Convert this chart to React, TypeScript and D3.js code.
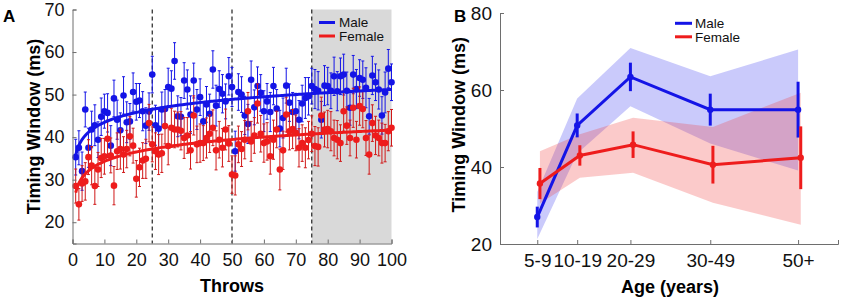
import React, { useEffect, useRef } from "react";
import * as d3 from "d3";

// ---------- Panel A data (throws 1..100) ----------
const maleThrowMeans = [
  35.3, 37.5, 32.0, 46.5, 37.5, 41.8, 42.8, 39.4, 44.8, 46.1,
  45.7, 38.0, 49.1, 44.1, 41.6, 49.8, 43.5, 43.7, 50.6, 48.3,
  48.6, 46.1, 42.7, 46.0, 54.7, 42.8, 42.0, 46.5, 46.6, 51.8,
  51.4, 57.9, 44.9, 44.8, 53.3, 51.2, 45.3, 53.3, 46.5, 49.4,
  43.7, 47.7, 45.5, 55.9, 47.4, 51.3, 50.2, 48.4, 54.3, 51.8,
  36.7, 50.6, 50.0, 45.1, 43.1, 53.5, 47.0, 52.0, 50.4, 46.1,
  48.4, 45.9, 52.0, 46.7, 42.0, 44.5, 52.1, 48.1, 45.9, 46.1,
  44.1, 47.9, 49.2, 49.6, 52.0, 51.3, 50.9, 44.1, 52.1, 52.0,
  50.9, 54.3, 50.8, 54.3, 54.7, 50.9, 46.9, 54.7, 51.3, 53.9,
  53.5, 51.6, 44.9, 54.5, 52.9, 51.2, 45.1, 50.5, 56.1, 52.9,
];
const maleThrowErr = [
  4.2, 4.0, 4.5, 4.1, 4.6, 4.3, 4.8, 4.2, 4.4, 4.0,
  4.5, 4.7, 4.3, 4.6, 4.1, 4.4, 4.8, 4.2, 4.5, 4.3,
  4.0, 4.6, 4.2, 4.4, 4.3, 4.7, 4.5, 4.1, 4.6, 4.4,
  4.2, 4.3, 4.8, 4.5, 4.2, 4.6, 4.4, 4.1, 4.7, 4.3,
  4.5, 4.2, 4.6, 4.4, 4.8, 4.3, 4.5, 4.1, 4.4, 4.6,
  4.7, 4.3, 4.2, 4.5, 4.6, 4.4, 4.1, 4.5, 4.3, 4.8,
  4.2, 4.6, 4.4, 4.5, 4.3, 4.7, 4.1, 4.4, 4.6, 4.2,
  4.5, 4.3, 4.8, 4.4, 4.2, 4.6, 4.5, 4.3, 4.7, 4.4,
  4.2, 4.5, 4.6, 4.3, 4.8, 4.4, 4.1, 4.5, 4.6, 4.3,
  4.4, 4.7, 4.2, 4.5, 4.3, 4.6, 4.4, 4.8, 4.5, 4.3,
];
const femaleThrowMeans = [
  28.5, 24.2, 29.1, 29.6, 35.3, 33.3, 28.5, 32.4, 35.1, 35.5,
  39.6, 35.7, 28.6, 36.7, 37.2, 35.9, 37.2, 40.2, 38.0, 30.2,
  32.9, 34.5, 34.9, 43.3, 38.3, 36.7, 35.9, 36.2, 42.6, 37.9,
  42.2, 41.8, 41.8, 41.5, 39.8, 40.4, 36.9, 45.1, 38.3, 38.6,
  38.6, 39.8, 40.8, 42.2, 36.9, 39.4, 37.5, 41.8, 38.5, 31.2,
  31.0, 38.3, 37.2, 39.4, 46.1, 39.0, 40.4, 47.9, 40.8, 38.6,
  39.0, 35.5, 39.4, 41.8, 32.4, 36.9, 45.3, 41.4, 41.9, 41.0,
  37.5, 38.6, 37.5, 39.3, 40.8, 37.9, 37.7, 45.1, 41.8, 41.9,
  41.4, 39.8, 39.4, 38.6, 46.1, 42.7, 39.8, 46.9, 39.4, 47.3,
  46.6, 39.8, 35.9, 43.3, 40.4, 39.8, 38.6, 38.6, 41.4, 42.2,
];
const femaleThrowErr = [
  4.0, 3.7, 4.2, 4.4, 4.1, 4.5, 4.3, 4.0, 4.6, 4.2,
  4.4, 4.1, 4.5, 4.3, 4.7, 4.2, 4.4, 4.6, 4.1, 4.3,
  4.5, 4.2, 4.6, 4.4, 4.1, 4.3, 4.7, 4.5, 4.2, 4.4,
  4.6, 4.3, 4.1, 4.5, 4.8, 4.2, 4.4, 4.6, 4.3, 4.5,
  4.1, 4.7, 4.4, 4.2, 4.6, 4.3, 4.5, 4.8, 4.2, 4.4,
  4.6, 4.3, 4.1, 4.5, 4.4, 4.7, 4.2, 4.6, 4.3, 4.5,
  4.4, 4.2, 4.6, 4.3, 4.8, 4.5, 4.1, 4.4, 4.6, 4.2,
  4.5, 4.3, 4.7, 4.4, 4.2, 4.6, 4.5, 4.3, 4.1, 4.4,
  4.6, 4.2, 4.5, 4.3, 4.7, 4.4, 4.2, 4.6, 4.3, 4.5,
  4.4, 4.1, 4.6, 4.3, 4.5, 4.2, 4.7, 4.4, 4.6, 4.3,
];
const throwTicks = [0, 10, 20, 30, 40, 50, 60, 70, 80, 90, 100];
const throwYTicks = [20, 30, 40, 50, 60, 70];
const blockBoundaries = [25, 50, 75];
const shadedRange = [75, 100];

// ---------- Panel B data ----------
const ageGroups = ["5-9", "10-19", "20-29", "30-49", "50+"];
const agePositions = [7, 14.5, 24.5, 39.5, 56];
const maleAgeMeans = [27.0, 50.8, 63.4, 54.9, 54.9];
const maleAgeErr = [2.7, 3.1, 3.7, 4.15, 7.25];
const maleBandLow = [21.3, 43.5, 55.8, 46.1, 39.1];
const maleBandHigh = [33.5, 57.8, 70.9, 63.6, 70.5];
const femaleAgeMeans = [35.7, 43.0, 45.8, 40.6, 42.4];
const femaleAgeErr = [4.05, 2.65, 3.45, 4.9, 8.15];
const femaleBandLow = [30.5, 37.2, 38.5, 30.7, 25.0];
const femaleBandHigh = [44.1, 48.5, 52.8, 50.4, 59.3];
const ageYTicks = [20, 40, 60, 80];
const femaleOffset = 0.5;

const BLUE = "#1414e6";
const RED = "#ee1c1c";
const RED_BAR = "#d01818";
const FONT = "'Liberation Sans', Arial, sans-serif";
const AXIS = "#6e6e6e";

function logFit(vals: number[]) {
  const xs = vals.map((_, i) => Math.log(i + 1));
  const mx = d3.mean(xs) as number;
  const my = d3.mean(vals) as number;
  let num = 0, den = 0;
  xs.forEach((x, i) => { num += (x - mx) * (vals[i] - my); den += (x - mx) ** 2; });
  const b = num / den;
  const a = my - b * mx;
  return (t: number) => a + b * Math.log(t);
}

export default function App() {
  const ref = useRef<SVGSVGElement>(null);

  useEffect(() => {
    const svg = d3.select(ref.current);
    svg.selectAll("*").remove();

    // ===== Panel A =====
    const xA = d3.scaleLinear().domain([0, 100]).range([72.5, 391.5]);
    const yA = d3.scaleLinear().domain([15, 70]).range([243.5, 9.5]);
    const gA = svg.append("g");

    gA.append("rect")
      .attr("x", xA(shadedRange[0])).attr("y", yA(70))
      .attr("width", xA(shadedRange[1]) - xA(shadedRange[0]))
      .attr("height", yA(15) - yA(70))
      .attr("fill", "#d9d9d9");

    blockBoundaries.forEach((b) => {
      gA.append("line")
        .attr("x1", xA(b)).attr("x2", xA(b))
        .attr("y1", yA(70)).attr("y2", yA(15))
        .attr("stroke", "#222").attr("stroke-width", 1.2)
        .attr("stroke-dasharray", "4,3");
    });

    const drawSeries = (means: number[], errs: number[], col: string, barCol: string) => {
      const g = gA.append("g");
      means.forEach((m, i) => {
        const t = i + 1;
        const cx = xA(t);
        g.append("line").attr("x1", cx).attr("x2", cx)
          .attr("y1", yA(m - errs[i])).attr("y2", yA(m + errs[i]))
          .attr("stroke", barCol).attr("stroke-width", 1);
        [m - errs[i], m + errs[i]].forEach((v) => {
          g.append("line").attr("x1", cx - 1.5).attr("x2", cx + 1.5)
            .attr("y1", yA(v)).attr("y2", yA(v))
            .attr("stroke", barCol).attr("stroke-width", 1);
        });
      });
      means.forEach((m, i) => {
        g.append("circle").attr("cx", xA(i + 1)).attr("cy", yA(m))
          .attr("r", 3.3).attr("fill", col);
      });
    };
    drawSeries(maleThrowMeans, maleThrowErr, BLUE, BLUE);
    drawSeries(femaleThrowMeans, femaleThrowErr, RED, RED_BAR);

    const ts = d3.range(1, 100.01, 0.5);
    const fitM = logFit(maleThrowMeans);
    const fitF = logFit(femaleThrowMeans);
    const lineA = (f: (t: number) => number) =>
      d3.line<number>().x((t) => xA(t)).y((t) => yA(f(t)))(ts) as string;
    gA.append("path").attr("d", lineA(fitM)).attr("fill", "none")
      .attr("stroke", BLUE).attr("stroke-width", 3);
    gA.append("path").attr("d", lineA(fitF)).attr("fill", "none")
      .attr("stroke", RED).attr("stroke-width", 3);

    const axA = gA.append("g").attr("transform", `translate(0,${yA(15)})`)
      .call(d3.axisBottom(xA).tickValues(throwTicks).tickSize(-4).tickPadding(10).tickFormat(d3.format("d")));
    const ayA = gA.append("g").attr("transform", `translate(${xA(0)},0)`)
      .call(d3.axisLeft(yA).tickValues(throwYTicks).tickSize(-4).tickPadding(8).tickFormat(d3.format("d")));
    [axA, ayA].forEach((ax) => {
      ax.select(".domain").attr("stroke", AXIS).attr("stroke-width", 1);
      ax.selectAll(".tick line").attr("stroke", AXIS);
      ax.selectAll(".tick text").attr("font-family", FONT).attr("font-size", 18).attr("fill", "#111");
    });

    // legend A
    const legA = [["Male", BLUE], ["Female", RED]];
    legA.forEach(([lab, col], i) => {
      const yy = 22.5 + i * 13.5;
      gA.append("line").attr("x1", 319).attr("x2", 335).attr("y1", yy).attr("y2", yy)
        .attr("stroke", col).attr("stroke-width", 3);
      gA.append("text").attr("x", 339).attr("y", yy + 4.8).text(lab)
        .attr("font-family", FONT).attr("font-size", 13.5).attr("fill", "#111");
    });

    gA.append("text").attr("x", xA(50)).attr("y", 292).attr("text-anchor", "middle")
      .attr("font-family", FONT).attr("font-size", 18).attr("font-weight", "bold").text("Throws");
    gA.append("text").attr("transform", `translate(40,${yA(42.5)}) rotate(-90)`)
      .attr("text-anchor", "middle")
      .attr("font-family", FONT).attr("font-size", 18).attr("font-weight", "bold").text("Timing Window (ms)");
    gA.append("text").attr("x", 3).attr("y", 22).attr("font-family", FONT)
      .attr("font-size", 17).attr("font-weight", "bold").text("A");

    // ===== Panel B =====
    const xB = d3.scaleLinear().domain([0, 63.5]).range([500, 838]);
    const yB = d3.scaleLinear().domain([20, 80]).range([244, 13]);
    const gB = svg.append("g");

    const band = (lo: number[], hi: number[], off: number) =>
      d3.area<number>()
        .x((_, i) => xB(agePositions[i] + off))
        .y0((_, i) => yB(lo[i]))
        .y1((_, i) => yB(hi[i]))(lo) as string;
    gB.append("path").attr("d", band(maleBandLow, maleBandHigh, 0))
      .attr("fill", "#2a2af0").attr("fill-opacity", 0.25);
    gB.append("path").attr("d", band(femaleBandLow, femaleBandHigh, femaleOffset))
      .attr("fill", "#f03a3a").attr("fill-opacity", 0.27);

    const drawAge = (means: number[], errs: number[], off: number, col: string) => {
      const line = d3.line<number>()
        .x((_, i) => xB(agePositions[i] + off)).y((m) => yB(m));
      gB.append("path").attr("d", line(means) as string).attr("fill", "none")
        .attr("stroke", col).attr("stroke-width", 3);
      means.forEach((m, i) => {
        const cx = xB(agePositions[i] + off);
        gB.append("line").attr("x1", cx).attr("x2", cx)
          .attr("y1", yB(m - errs[i])).attr("y2", yB(m + errs[i]))
          .attr("stroke", col).attr("stroke-width", 3);
        gB.append("circle").attr("cx", cx).attr("cy", yB(m)).attr("r", 3.2).attr("fill", col);
      });
    };
    drawAge(maleAgeMeans, maleAgeErr, 0, BLUE);
    drawAge(femaleAgeMeans, femaleAgeErr, femaleOffset, RED);

    const axB = gB.append("g").attr("transform", `translate(0,${yB(20)})`)
      .call(d3.axisBottom(xB).tickValues(agePositions).tickSize(-4).tickPadding(10)
        .tickFormat((_, i) => ageGroups[i]));
    const ayB = gB.append("g").attr("transform", `translate(${xB(0)},0)`)
      .call(d3.axisLeft(yB).tickValues(ageYTicks).tickSize(-4).tickPadding(8).tickFormat(d3.format("d")));
    [axB, ayB].forEach((ax) => {
      ax.select(".domain").attr("stroke", AXIS).attr("stroke-width", 1);
      ax.selectAll(".tick line").attr("stroke", AXIS);
      ax.selectAll(".tick text").attr("font-family", FONT).attr("font-size", 19).attr("fill", "#111");
    });

    const legB = [["Male", BLUE], ["Female", RED]];
    legB.forEach(([lab, col], i) => {
      const yy = 23.3 + i * 13.5;
      gB.append("line").attr("x1", 675).attr("x2", 692).attr("y1", yy).attr("y2", yy)
        .attr("stroke", col).attr("stroke-width", 3);
      gB.append("text").attr("x", 695).attr("y", yy + 4.8).text(lab)
        .attr("font-family", FONT).attr("font-size", 13.5).attr("fill", "#111");
    });

    gB.append("text").attr("x", 670).attr("y", 293).attr("text-anchor", "middle")
      .attr("font-family", FONT).attr("font-size", 18).attr("font-weight", "bold").text("Age (years)");
    gB.append("text").attr("transform", `translate(465,${yB(51)}) rotate(-90)`)
      .attr("text-anchor", "middle")
      .attr("font-family", FONT).attr("font-size", 18).attr("font-weight", "bold").text("Timing Window (ms)");
    gB.append("text").attr("x", 454).attr("y", 22).attr("font-family", FONT)
      .attr("font-size", 17).attr("font-weight", "bold").text("B");
  }, []);

  return (
    <svg ref={ref} width={850} height={298}
      style={{ position: "absolute", left: 0, top: 0, background: "#fff" }} />
  );
}
